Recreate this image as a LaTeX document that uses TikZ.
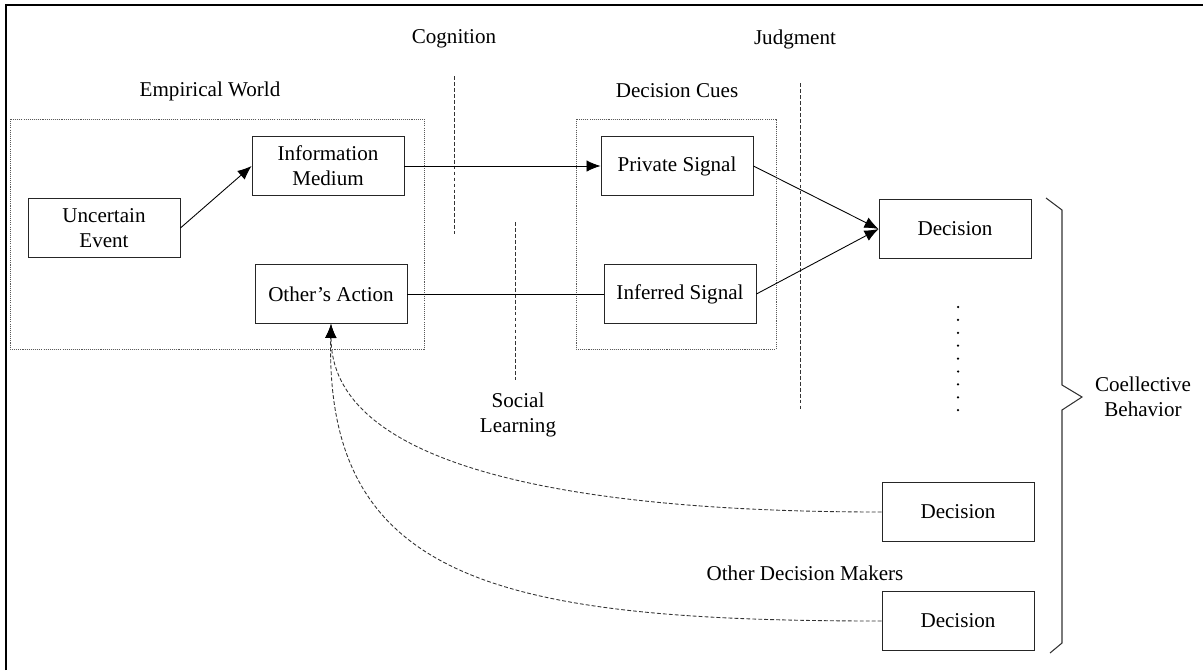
\documentclass[tikz,border=0pt]{standalone}
\usepackage{fontspec}
\setmainfont{Liberation Serif}
\usetikzlibrary{arrows.meta}

\begin{document}
\begin{tikzpicture}[x=0.02cm,y=-0.02cm,line width=0.5pt,>={Latex[length=8pt,width=6.5pt]},font=\fontsize{12}{14.2}\selectfont]
        \tikzstyle{box}=[rectangle,draw=black!85,minimum width=3.04cm,minimum height=1.18cm,align=center,inner sep=1pt]
        \tikzstyle{group}=[draw=black!65,dash pattern=on 0.6pt off 0.6pt]
        \tikzstyle{stage}=[draw=black!80,dash pattern=on 2.2pt off 1.2pt]
        \tikzstyle{feedback}=[draw=black!80,dash pattern=on 2.2pt off 1.2pt,-{Latex[length=8pt,width=6.5pt,black]}]
        \tikzstyle{caption}=[align=center]

        \useasboundingbox (0,0) rectangle (1203,670);
        \draw[line width=1.4pt] (6,670) -- (6,5) -- (1203,5); %frame

        \draw[group] (10,119) rectangle (424,349);  %empirical world
        \draw[group] (576,119) rectangle (776,349); %decision cues
        \node [caption] (world) at (210,91) {Empirical World};
        \node [caption] (cues) at (677,91) {Decision Cues};

        \draw[stage] (454,76) -- (454,234);   %cognition
        \draw[stage] (515,222) -- (515,380);  %social learning
        \draw[stage] (800,83) -- (800,410);   %judgment
        \node [caption] (cognition) at (454,39) {Cognition};
        \node [caption] (judgment) at (795,39) {Judgment};
        \node [caption] (social) at (518,415) {Social\\Learning};

        \node [box] (uncertain) at (104,228) {Uncertain\\Event};
        \node [box] (medium) at (328,166) {Information\\Medium};
        \node [box] (action) at (331,294) {Other's Action};
        \node [box] (private) at (677,166) {Private Signal};
        \node [box] (inferred) at (680,294) {Inferred Signal};
        \node [box] (decision) at (955,229) {Decision};
        \node [box] (decisionB) at (958,512) {Decision};
        \node [box] (decisionC) at (958,621) {Decision};
        \node [caption] (others) at (805,573) {Other Decision Makers};

        \draw[->] (uncertain.east) -- (medium.west);
        \draw[->] (medium) -- (private);
        \draw (action) -- (inferred);
        \draw[->] (private.east) -- (decision.west);
        \draw[->] (inferred.east) -- (decision.west);

        \draw[feedback] (decisionB.west) .. controls +(-332,0) and +(0,137) .. (action.south);
        \draw[feedback] (decisionC.west) .. controls +(-382,0) and +(-6,257) .. (action.south);

        \foreach \i in {0,...,8}
            \fill (958,307+12.9*\i) circle[radius=0.025cm]; %more decisions

        \draw[black!80,line width=0.6pt] (1046,198) -- (1062,210) -- (1062,385) -- (1082,397) -- (1062,410) -- (1062,643) -- (1050,653);
        \node [caption] (collective) at (1143,397) {Coellective\\Behavior};
    \end{tikzpicture}
\end{document}
